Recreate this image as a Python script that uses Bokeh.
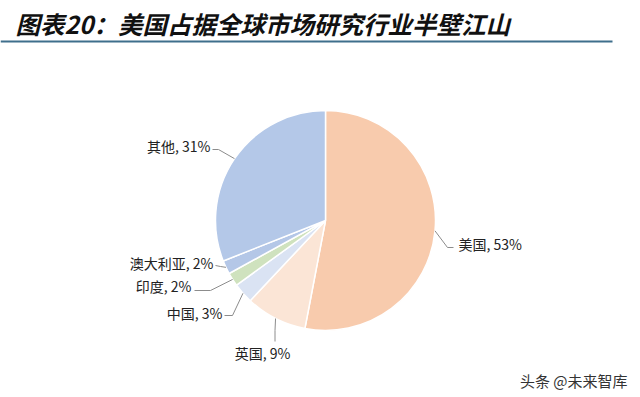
import math
from bokeh.plotting import figure
from bokeh.models import Range1d
from bokeh.core.properties import value
from bokeh.embed import file_html
from bokeh.resources import INLINE

# ---- data ----
categories = ["美国", "英国", "中国", "印度", "澳大利亚", "其他"]
shares = [53, 9, 3, 2, 2, 31]
colors = ["#F8CBAD", "#FBE5D6", "#DAE3F3", "#CFE2BE", "#B4C7E7", "#B4C8E8"]
title_text = "图表20：美国占据全球市场研究行业半壁江山"
watermark = "头条 @未来智库"

# ---- layout (image pixel coords, y downward) ----
W, H = 640, 397
cx, cy, R = 325, 220, 110
# elbow point, line end near label, text anchor, align
label_layout = [
    ((447, 247), (453, 247), (458, 243), "left"),
    ((274.5, 330), (274.5, 341), (262, 352), "center"),
    ((232, 315), (224, 315), (222, 312), "right"),
    ((210, 290), (194, 290), (191, 285), "right"),
    ((220, 266), (215, 265), (213, 262), "right"),
    ((218, 149), (212, 149), (210, 145), "right"),
]

FONT = "Noto Sans CJK SC"

p = figure(width=W, height=H, output_backend="svg", toolbar_location=None,
           x_range=Range1d(0, W), y_range=Range1d(0, H),
           min_border=0)
p.axis.visible = False
p.grid.visible = False
p.outline_line_color = None
p.background_fill_color = "white"
p.border_fill_color = "white"

total = sum(shares)
cum = 0.0
starts, ends, mids = [], [], []
for s in shares:
    a0 = math.pi / 2 - cum / total * 2 * math.pi
    cum += s
    a1 = math.pi / 2 - cum / total * 2 * math.pi
    starts.append(a0)
    ends.append(a1)
    mids.append((a0 + a1) / 2)

p.wedge(x=[cx] * len(shares), y=[H - cy] * len(shares), radius=R,
        start_angle=starts, end_angle=ends, direction="clock",
        fill_color=colors, line_color="white", line_width=1.5)

# leader lines and labels
for cat, s, m, (elbow, lend, anchor, align) in zip(categories, shares, mids, label_layout):
    ex = cx + R * math.cos(m)
    ey = (H - cy) + R * math.sin(m)
    p.line([ex, elbow[0], lend[0]], [ey, H - elbow[1], H - lend[1]],
           line_color="#8C8C8C", line_width=1)
    p.text(x=[anchor[0]], y=[H - anchor[1]], text=[f"{cat}, {s}%"],
           text_font=value(FONT), text_font_size="14px", text_color="#222222",
           text_align=align, text_baseline="middle")

# title
p.text(x=[15], y=[H - 23], text=[title_text], text_font=value(FONT),
       text_font_size="24.5px", text_font_style="bold italic", text_color="#111111",
       text_align="left", text_baseline="middle")
p.line([0, 612], [H - 41, H - 41], line_color="#3F6F8C", line_width=2)

# watermark
p.text(x=[627], y=[H - 380], text=[watermark], text_font=value(FONT),
       text_font_size="15px", text_color="#333333",
       text_align="right", text_baseline="middle")

open("out.html", "w").write(file_html(p, INLINE))
